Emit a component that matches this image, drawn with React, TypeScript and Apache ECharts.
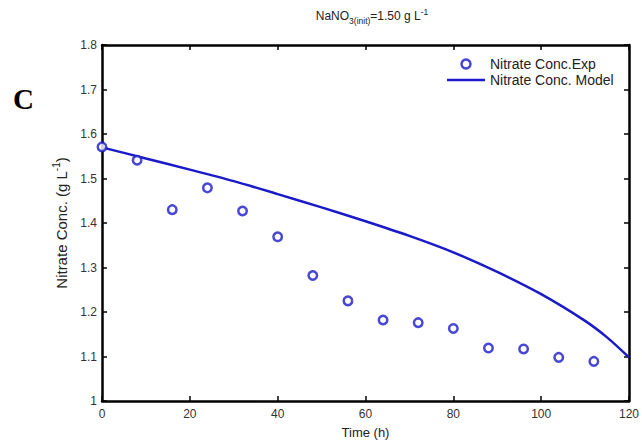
import React, { useEffect, useRef } from "react";
import * as echarts from "echarts";

const expTime = [0, 8, 16, 24, 32, 40, 48, 56, 64, 72, 80, 88, 96, 104, 112];
const expConc = [1.571, 1.541, 1.43, 1.479, 1.427, 1.369, 1.282, 1.225, 1.182, 1.176, 1.163, 1.119, 1.117, 1.098, 1.089];
const modelTime = [0, 10, 20, 30, 40, 50, 60, 70, 80, 90, 100, 110, 115, 120];
const modelConc = [1.57, 1.545, 1.52, 1.494, 1.465, 1.435, 1.404, 1.371, 1.334, 1.29, 1.24, 1.18, 1.143, 1.098];
const seriesNames = ["Nitrate Conc.Exp", "Nitrate Conc. Model"];

const FONT = "Liberation Sans, Arial, sans-serif";
const BLUE = "#1a1ac8";

export default function App() {
  const ref = useRef<HTMLDivElement>(null);
  useEffect(() => {
    if (!ref.current) return;
    const chart = echarts.init(ref.current, null, { renderer: "svg" });
    const axisLine = { show: true, onZero: false, lineStyle: { color: "#000", width: 2.5 } };
    const tick = { show: true, inside: true, length: 5, lineStyle: { color: "#000", width: 1.5 } };
    const label = { color: "#333", fontSize: 12, fontFamily: FONT };
    chart.setOption({
      animation: false,
      backgroundColor: "#fff",
      textStyle: { fontFamily: FONT },
      title: {
        left: 367,
        top: 2,
        textAlign: "center",
        text: "{m|NaNO}{s|3(init)}{m|=1.50 g L}{p|-1}",
        textStyle: {
          fontWeight: "normal",
          rich: {
            m: { fontSize: 12, fontWeight: "normal", color: "#222", fontFamily: FONT, lineHeight: 18, verticalAlign: "middle" },
            s: { fontSize: 8.5, fontWeight: "normal", color: "#222", fontFamily: FONT, lineHeight: 18, verticalAlign: "bottom" },
            p: { fontSize: 8.5, fontWeight: "normal", color: "#222", fontFamily: FONT, lineHeight: 18, verticalAlign: "top" },
          },
        },
      },
      legend: {
        orient: "vertical",
        left: 442,
        top: 52,
        itemWidth: 38,
        itemHeight: 9,
        itemGap: 2,
        textStyle: { fontSize: 14, color: "#222", fontFamily: FONT, lineHeight: 14 },
        data: [
          { name: seriesNames[0], icon: "circle", itemStyle: { color: "#fff", borderColor: BLUE, borderWidth: 2.5 } },
          {
            name: seriesNames[1],
            icon: "path://M0,0 L38,0 L38,2.5 L0,2.5 Z",
            itemStyle: { color: BLUE, borderWidth: 0 },
          },
        ],
      },
      grid: { left: 102, right: 10, top: 45, bottom: 38 },
      xAxis: [
        {
          type: "value",
          min: 0,
          max: 120,
          interval: 20,
          position: "bottom",
          axisLine,
          axisTick: tick,
          splitLine: { show: false },
          axisLabel: { ...label, margin: 7 },
          name: "Time (h)",
          nameLocation: "middle",
          nameGap: 25,
          nameTextStyle: { fontSize: 13, color: "#222", fontFamily: FONT },
        },
        {
          type: "value",
          min: 0,
          max: 120,
          interval: 20,
          position: "top",
          axisLine,
          axisTick: tick,
          splitLine: { show: false },
          axisLabel: { show: false },
        },
      ],
      yAxis: [
        {
          type: "value",
          min: 1,
          max: 1.8,
          interval: 0.1,
          position: "left",
          axisLine,
          axisTick: tick,
          splitLine: { show: false },
          axisLabel: { ...label, margin: 5, formatter: (v: number) => String(Number(v.toFixed(1))) },
          name: "{n|Nitrate Conc. (g L}{p|-1}{n|)}",
          nameLocation: "middle",
          nameGap: 30,
          nameRotate: 90,
          nameTextStyle: {
            rich: {
              n: { fontSize: 15, color: "#222", fontFamily: FONT, lineHeight: 20, verticalAlign: "middle" },
              p: { fontSize: 10, color: "#222", fontFamily: FONT, lineHeight: 20, verticalAlign: "top" },
            },
          },
        },
        {
          type: "value",
          min: 1,
          max: 1.8,
          interval: 0.1,
          position: "right",
          axisLine,
          axisTick: tick,
          splitLine: { show: false },
          axisLabel: { show: false },
        },
      ],
      graphic: [
        {
          type: "text",
          left: 13,
          top: 84,
          style: { text: "C", font: "bold 29px 'Liberation Serif', 'Times New Roman', serif", fill: "#000" },
        },
      ],
      series: [
        {
          name: seriesNames[1],
          type: "line",
          data: modelTime.map((t, i) => [t, modelConc[i]]),
          smooth: 0.3,
          showSymbol: false,
          symbol: "none",
          lineStyle: { color: BLUE, width: 2.5 },
          itemStyle: { color: BLUE },
          z: 2,
        },
        {
          name: seriesNames[0],
          type: "scatter",
          data: expTime.map((t, i) => [t, expConc[i]]),
          symbol: "circle",
          symbolSize: 8.5,
          itemStyle: { color: "#fff", borderColor: BLUE, borderWidth: 2.5 },
          z: 3,
        },
      ],
    });
    return () => chart.dispose();
  }, []);
  return <div ref={ref} style={{ position: "fixed", left: 0, top: 0, width: 642, height: 444 }} />;
}
